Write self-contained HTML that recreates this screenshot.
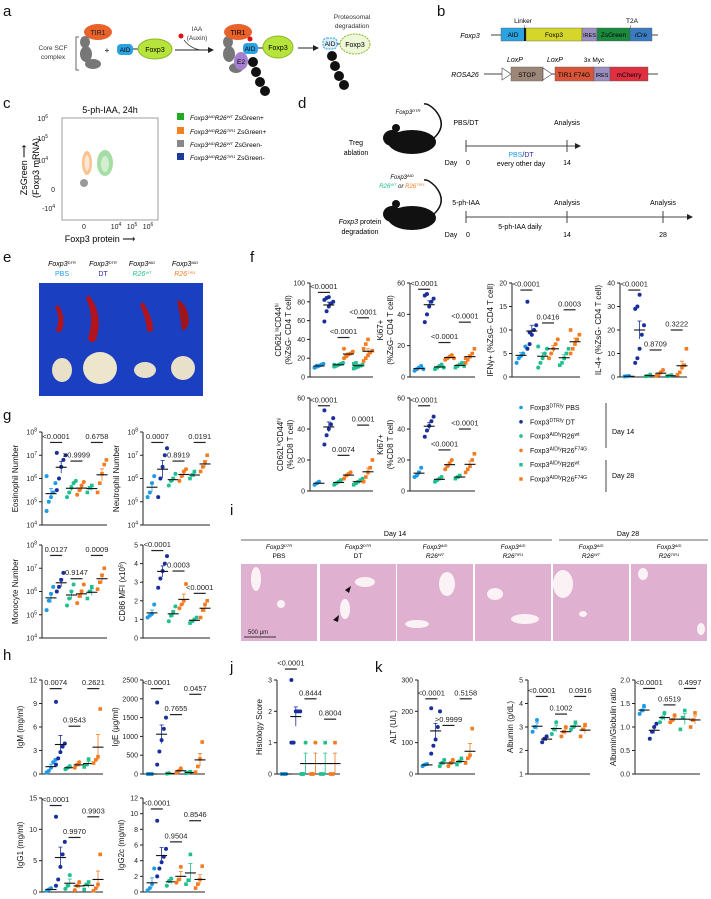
<!DOCTYPE html>
<html><head><meta charset="utf-8">
<style>
html,body{margin:0;padding:0;background:#fff;}
svg{display:block;font-family:"Liberation Sans",sans-serif;}
.t{font-size:7px;fill:#222}
.lab{font-size:15px;fill:#111}
</style></head>
<body>
<svg id="fig" width="711" height="899" viewBox="0 0 711 899" xmlns="http://www.w3.org/2000/svg">
<defs>
<marker id="ah" markerWidth="6" markerHeight="6" refX="5" refY="3" orient="auto"><path d="M0,0 L6,3 L0,6 z" fill="#222"/></marker>
</defs>
<!-- panel a -->
<g>
<text class="lab" x="3" y="16">a</text>
<text x="53" y="50" font-size="6.5" text-anchor="middle" fill="#333">Core SCF</text>
<text x="53" y="59" font-size="6.5" text-anchor="middle" fill="#333">complex</text>
<path d="M79,37 L76,37 L76,70 L79,70" fill="none" stroke="#666"/>
<ellipse cx="85" cy="42" rx="5" ry="6" fill="#777"/><ellipse cx="86" cy="54" rx="6" ry="8" fill="#777"/><ellipse cx="93" cy="64" rx="8" ry="5" fill="#777"/>
<ellipse cx="98" cy="32" rx="14" ry="8" fill="#e8622a"/><text x="98" y="35" font-size="7" text-anchor="middle" fill="#222">TIR1</text>
<text x="107" y="53" font-size="8" text-anchor="middle">+</text>
<rect x="117" y="44" width="16" height="11" rx="4" fill="#2ba3e0"/><text x="125" y="52" font-size="6.5" text-anchor="middle">AID</text>
<line x1="133" y1="49" x2="138" y2="49" stroke="#222"/>
<ellipse cx="155" cy="49" rx="17" ry="10" fill="#b7e43a" stroke="#8fb52a"/><text x="155" y="52" font-size="7" text-anchor="middle">Foxp3</text>
<text x="197" y="31" font-size="6.5" text-anchor="middle" fill="#333">IAA</text><text x="197" y="40" font-size="6.5" text-anchor="middle" fill="#333">(Auxin)</text>
<circle cx="181" cy="36" r="2.5" fill="#e01010"/>
<path d="M184,40 Q190,48 200,50" fill="none" stroke="#333" stroke-width="0.7"/>
<line x1="175" y1="50" x2="213" y2="50" stroke="#222" marker-end="url(#ah)"/>
<ellipse cx="228" cy="42" rx="5" ry="6" fill="#777"/><ellipse cx="229" cy="54" rx="6" ry="8" fill="#777"/><ellipse cx="236" cy="68" rx="7" ry="5" fill="#777"/>
<ellipse cx="238" cy="32" rx="14" ry="8" fill="#e8622a"/><text x="238" y="35" font-size="7" text-anchor="middle">TIR1</text>
<ellipse cx="241" cy="61" rx="7" ry="9" fill="#a77fd0"/><text x="241" y="64" font-size="6.5" text-anchor="middle">E2</text>
<rect x="243" y="43" width="15" height="11" rx="4" fill="#2ba3e0"/><text x="250" y="51" font-size="6.5" text-anchor="middle">AID</text>
<circle cx="250" cy="39" r="2.5" fill="#e01010"/>
<line x1="258" y1="48" x2="264" y2="48" stroke="#222"/>
<ellipse cx="278" cy="47" rx="15" ry="11" fill="#b7e43a" stroke="#8fb52a"/><text x="278" y="50" font-size="7" text-anchor="middle">Foxp3</text>
<circle cx="253" cy="62" r="5" fill="#111"/><circle cx="256" cy="72" r="5" fill="#111"/><circle cx="260" cy="82" r="5" fill="#111"/><circle cx="265" cy="91" r="5" fill="#111"/>
<line x1="298" y1="48" x2="318" y2="48" stroke="#222" marker-end="url(#ah)"/>
<text x="352" y="19" font-size="6.5" text-anchor="middle" fill="#333">Proteosomal</text><text x="352" y="28" font-size="6.5" text-anchor="middle" fill="#333">degradation</text>
<rect x="323" y="38" width="14" height="11" rx="4" fill="#d8eef8" stroke="#2ba3e0" stroke-dasharray="2,1"/><text x="330" y="46" font-size="6.5" text-anchor="middle">AID</text>
<line x1="337" y1="44" x2="340" y2="44" stroke="#222"/>
<ellipse cx="355" cy="44" rx="15" ry="10" fill="#eef7d8" stroke="#8fb52a" stroke-dasharray="2,1"/><text x="355" y="47" font-size="7" text-anchor="middle">Foxp3</text>
<circle cx="332" cy="56" r="5" fill="#111"/><circle cx="335" cy="66" r="5" fill="#111"/><circle cx="339" cy="76" r="5" fill="#111"/><circle cx="344" cy="85" r="5" fill="#111"/>
</g>
<!-- panel b -->
<g>
<text class="lab" x="437" y="16">b</text>
<text x="470" y="38" font-size="7" font-style="italic" text-anchor="middle">Foxp3</text>
<line x1="491" y1="35" x2="658" y2="35" stroke="#444"/>
<rect x="501" y="28" width="24" height="13" fill="#2ba3e0" stroke="#555" stroke-width=".4"/><text x="513" y="37" font-size="6.5" text-anchor="middle">AID</text>
<rect x="524" y="28" width="2" height="13" fill="#111"/>
<rect x="526" y="28" width="56" height="13" fill="#d4d62a" stroke="#555" stroke-width=".4"/><text x="554" y="37" font-size="6.5" text-anchor="middle">Foxp3</text>
<rect x="582" y="28" width="15" height="13" fill="#9b8fc0" stroke="#555" stroke-width=".4"/><text x="589.5" y="37" font-size="5.5" text-anchor="middle">IRES</text>
<rect x="597" y="28" width="33" height="13" fill="#1a8a3f" stroke="#555" stroke-width=".4"/><text x="613.5" y="37" font-size="6.5" text-anchor="middle">ZsGreen</text>
<rect x="630" y="28" width="22" height="13" fill="#3b7cc0" stroke="#555" stroke-width=".4"/><text x="641" y="37" font-size="6.5" text-anchor="middle" font-style="italic">iCre</text>
<text x="523" y="23" font-size="6.5" text-anchor="middle">Linker</text><line x1="524" y1="25" x2="525" y2="28" stroke="#444" stroke-width=".5"/>
<text x="632" y="23" font-size="6.5" text-anchor="middle">T2A</text><line x1="631" y1="25" x2="630" y2="28" stroke="#444" stroke-width=".5"/>
<text x="465" y="77" font-size="7" font-style="italic" text-anchor="middle">ROSA26</text>
<line x1="484" y1="74" x2="658" y2="74" stroke="#444"/>
<path d="M502,68 L511,74 L502,80 z" fill="#fff" stroke="#444" stroke-width=".6"/>
<rect x="511" y="67" width="32" height="14" fill="#9c8677" stroke="#555" stroke-width=".4"/><text x="527" y="77" font-size="6.5" text-anchor="middle">STOP</text>
<path d="M543,68 L552,74 L543,80 z" fill="#fff" stroke="#444" stroke-width=".6"/>
<rect x="555" y="67" width="39" height="14" fill="#d8553a" stroke="#555" stroke-width=".4"/><text x="574" y="77" font-size="6.5" text-anchor="middle">TIR1 F74G</text>
<rect x="594" y="67" width="16" height="14" fill="#9b8fc0" stroke="#555" stroke-width=".4"/><text x="602" y="77" font-size="5.5" text-anchor="middle">IRES</text>
<rect x="610" y="67" width="38" height="14" fill="#e03040" stroke="#555" stroke-width=".4"/><text x="629" y="77" font-size="6.5" text-anchor="middle">mCherry</text>
<text x="515" y="62" font-size="7" font-style="italic" text-anchor="middle">LoxP</text>
<text x="555" y="62" font-size="7" font-style="italic" text-anchor="middle">LoxP</text>
<text x="594" y="62" font-size="6.5" text-anchor="middle">3x Myc</text>
</g>
<!-- panel c -->
<g>
<text class="lab" x="3" y="108">c</text>
<text x="110" y="113" font-size="9" text-anchor="middle">5-ph-IAA, 24h</text>
<rect x="62" y="118" width="96" height="102" fill="none" stroke="#888" stroke-width=".8"/>
<text x="48" y="121" class="t" text-anchor="end">10<tspan dy="-3" font-size="5">6</tspan></text>
<text x="48" y="141" class="t" text-anchor="end">10<tspan dy="-3" font-size="5">5</tspan></text>
<text x="48" y="163" class="t" text-anchor="end">10<tspan dy="-3" font-size="5">4</tspan></text>
<text x="55" y="192" class="t" text-anchor="end">0</text>
<text x="55" y="211" class="t" text-anchor="end">-10<tspan dy="-3" font-size="5">4</tspan></text>
<text x="84" y="229" class="t" text-anchor="middle">0</text>
<text x="116" y="229" class="t" text-anchor="middle">10<tspan dy="-3" font-size="5">4</tspan></text>
<text x="132" y="229" class="t" text-anchor="middle">10<tspan dy="-3" font-size="5">5</tspan></text>
<text x="148" y="229" class="t" text-anchor="middle">10<tspan dy="-3" font-size="5">6</tspan></text>
<text x="100" y="242" font-size="9" text-anchor="middle">Foxp3 protein ⟶</text>
<text transform="translate(27,170) rotate(-90)" font-size="9" text-anchor="middle">ZsGreen ⟶</text>
<text transform="translate(39,168) rotate(-90)" font-size="9" text-anchor="middle">(Foxp3 mRNA)</text>
<ellipse cx="87" cy="163" rx="5" ry="12" fill="#f8a860" opacity=".7"/><ellipse cx="87" cy="163" rx="2.5" ry="8" fill="#fff" opacity=".6"/>
<ellipse cx="105" cy="163" rx="8" ry="13" fill="#7fd07f" opacity=".7"/><ellipse cx="105" cy="164" rx="4" ry="8" fill="#fff" opacity=".5"/>
<circle cx="84" cy="183" r="4" fill="#999"/>
<g font-size="6.5" font-style="italic">
<rect x="177" y="113" width="7" height="7" fill="#22aa22"/><text x="190" y="120">Foxp3<tspan dy="-2" font-size="4">AID</tspan><tspan dy="2">R26</tspan><tspan dy="-2" font-size="4">WT</tspan><tspan dy="2" font-style="normal"> ZsGreen+</tspan></text>
<rect x="177" y="127" width="7" height="7" fill="#f08020"/><text x="190" y="134">Foxp3<tspan dy="-2" font-size="4">AID</tspan><tspan dy="2">R26</tspan><tspan dy="-2" font-size="4">TIR1</tspan><tspan dy="2" font-style="normal"> ZsGreen+</tspan></text>
<rect x="177" y="140" width="7" height="7" fill="#888"/><text x="190" y="147">Foxp3<tspan dy="-2" font-size="4">AID</tspan><tspan dy="2">R26</tspan><tspan dy="-2" font-size="4">WT</tspan><tspan dy="2" font-style="normal"> ZsGreen-</tspan></text>
<rect x="177" y="153" width="7" height="7" fill="#1a3a9c"/><text x="190" y="160">Foxp3<tspan dy="-2" font-size="4">AID</tspan><tspan dy="2">R26</tspan><tspan dy="-2" font-size="4">TIR1</tspan><tspan dy="2" font-style="normal"> ZsGreen-</tspan></text>
</g>
</g>
<!-- panel d -->
<g font-size="7">
<text class="lab" x="298" y="108">d</text>
<g>
<ellipse cx="412" cy="142" rx="24" ry="12" fill="#111"/><ellipse cx="392" cy="138" rx="9" ry="8" fill="#111"/><circle cx="396" cy="128" r="4" fill="#111"/>
<path d="M434,138 Q448,125 435,110 Q428,103 424,104" fill="none" stroke="#111" stroke-width="1.5"/>
</g>
<text x="408" y="114" font-style="italic" text-anchor="middle" font-size="6">Foxp3<tspan dy="-2" font-size="4">DTR</tspan></text>
<text x="356" y="145" text-anchor="middle">Treg</text><text x="356" y="155" text-anchor="middle">ablation</text>
<line x1="466" y1="146" x2="580" y2="146" stroke="#444" marker-end="url(#ah)"/>
<line x1="466" y1="140" x2="466" y2="152" stroke="#444"/><line x1="567" y1="140" x2="567" y2="152" stroke="#444"/>
<text x="466" y="125" text-anchor="middle">PBS/DT</text><text x="567" y="125" text-anchor="middle">Analysis</text>
<text x="521" y="157" text-anchor="middle"><tspan fill="#1e9be8">PBS</tspan>/<tspan fill="#2a2aa8">DT</tspan></text>
<text x="521" y="166" text-anchor="middle">every other day</text>
<text x="451" y="165" text-anchor="middle">Day</text><text x="468" y="165" text-anchor="middle">0</text><text x="567" y="165" text-anchor="middle">14</text>
<g>
<ellipse cx="412" cy="218" rx="24" ry="12" fill="#111"/><ellipse cx="392" cy="214" rx="9" ry="8" fill="#111"/><circle cx="396" cy="204" r="4" fill="#111"/>
<path d="M434,214 Q448,201 435,186 Q428,179 424,180" fill="none" stroke="#111" stroke-width="1.5"/>
</g>
<text x="402" y="179" font-style="italic" text-anchor="middle" font-size="6">Foxp3<tspan dy="-2" font-size="4">AID</tspan></text>
<text x="402" y="188" font-style="italic" text-anchor="middle" font-size="6"><tspan fill="#1fbf8f">R26<tspan dy="-2" font-size="4">WT</tspan></tspan><tspan dy="2"> or </tspan><tspan fill="#f47b20">R26<tspan dy="-2" font-size="4">TIR1</tspan></tspan></text>
<text x="360" y="224" text-anchor="middle"><tspan font-style="italic">Foxp3</tspan> protein</text><text x="360" y="234" text-anchor="middle">degradation</text>
<line x1="466" y1="217" x2="692" y2="217" stroke="#444" marker-end="url(#ah)"/>
<line x1="466" y1="211" x2="466" y2="223" stroke="#444"/><line x1="567" y1="211" x2="567" y2="223" stroke="#444"/><line x1="663" y1="211" x2="663" y2="223" stroke="#444"/>
<text x="466" y="205" text-anchor="middle">5-ph-IAA</text><text x="567" y="205" text-anchor="middle">Analysis</text><text x="663" y="205" text-anchor="middle">Analysis</text>
<text x="520" y="229" text-anchor="middle">5-ph-IAA daily</text>
<text x="451" y="237" text-anchor="middle">Day</text><text x="468" y="237" text-anchor="middle">0</text><text x="567" y="237" text-anchor="middle">14</text><text x="663" y="237" text-anchor="middle">28</text>
</g>
<!-- panel e -->
<g font-size="7">
<text class="lab" x="3" y="262">e</text>
<text x="62" y="266" font-style="italic" text-anchor="middle">Foxp3<tspan dy="-2" font-size="4">DTR</tspan></text><text x="62" y="276" text-anchor="middle" fill="#1e9be8">PBS</text>
<text x="103" y="266" font-style="italic" text-anchor="middle">Foxp3<tspan dy="-2" font-size="4">DTR</tspan></text><text x="103" y="276" text-anchor="middle" fill="#2a2aa8">DT</text>
<text x="142" y="266" font-style="italic" text-anchor="middle">Foxp3<tspan dy="-2" font-size="4">AID</tspan></text><text x="142" y="276" text-anchor="middle" font-style="italic" fill="#1fbf8f">R26<tspan dy="-2" font-size="4">WT</tspan></text>
<text x="185" y="266" font-style="italic" text-anchor="middle">Foxp3<tspan dy="-2" font-size="4">AID</tspan></text><text x="185" y="276" text-anchor="middle" font-style="italic" fill="#f47b20">R26<tspan dy="-2" font-size="4">TIR1</tspan></text>
<rect x="39" y="283" width="164" height="113" fill="#1a3fc0"/>
<path d="M58,305 Q66,315 62,330 Q58,334 56,330 Q61,318 55,307 z" fill="#b3141c"/>
<path d="M89,295 Q104,315 96,340 Q90,345 88,338 Q95,318 86,298 z" fill="#b3141c"/>
<path d="M143,302 Q153,318 153,330 Q150,334 147,330 Q146,318 140,305 z" fill="#b3141c"/>
<path d="M177,300 Q188,303 189,322 Q186,332 182,330 Q180,315 177,300 z" fill="#a0141c"/>
<ellipse cx="62" cy="370" rx="10" ry="12" fill="#e8e0c8"/><ellipse cx="100" cy="368" rx="17" ry="16" fill="#eee6cc"/>
<ellipse cx="145" cy="370" rx="11" ry="8" fill="#e8e0c8"/><ellipse cx="183" cy="368" rx="12" ry="12" fill="#e8e0c8"/>
</g>
<!-- panel labels -->
<text class="lab" x="250" y="262">f</text>
<text class="lab" x="3" y="420">g</text>
<text class="lab" x="3" y="660">h</text>
<text class="lab" x="230" y="515">i</text>
<text class="lab" x="230" y="672">j</text>
<text class="lab" x="375" y="672">k</text>
<!-- panel i -->
<g id="histo" font-size="7">
<text x="395" y="536" text-anchor="middle">Day 14</text><line x1="241" y1="540" x2="552" y2="540" stroke="#666"/>
<text x="628" y="536" text-anchor="middle">Day 28</text><line x1="559" y1="540" x2="708" y2="540" stroke="#666"/>
</g>
<!-- f legend -->
<g font-size="7">
<g id="legend"></g>
<line x1="606" y1="403" x2="606" y2="448" stroke="#444"/><line x1="606" y1="460" x2="606" y2="492" stroke="#444"/>
<text x="612" y="434">Day 14</text><text x="612" y="478">Day 28</text>
</g>
<g id="plots"></g>
</svg>
<script>
const groupColors=["#1e9be8","#1a2f9c","#1fbf8f","#f47b20","#1fbf8f","#f47b20"];
// ---- data ----
const cd62lCd4Values=[[10,11,12,13,14,10,12],[59,70,75,78,80,82,84,85],[11,12,13,14,15,13],[20,22,24,25,27,30,23],[9,10,11,12,13,14,15,12],[17,20,23,26,28,30,35,40]];
const cd62lCd4P=["<0.0001","<0.0001","<0.0001"]; const cd62lCd4PY=[90,42,63];
const ki67Cd4Values=[[4,5,6,7,5],[35,40,45,48,50,52,53],[5,6,7,8,6],[11,12,13,14,12],[6,7,8,9,7],[9,11,13,15,18,12]];
const ki67Cd4P=["<0.0001","<0.0001","<0.0001"]; const ki67Cd4PY=[56,22,35];
const ifngValues=[[3,4,4.5,5,6.5],[6,7,9,10,11,16,9.5],[2,3,4,5,6,6.5],[4,5,6,7,8],[2.5,3,4,5,6],[5,6,7,8,9,10]];
const ifngP=["<0.0001","0.0416","0.0003"]; const ifngPY=[18.5,11.5,14.3];
const il4Values=[[0.2,0.3,0.4],[6,8,12,18,22,29,30,35],[0.3,0.5,1],[0.5,1,2,3],[0.3,0.5,0.8],[1,2,4,5,12]];
const il4P=["<0.0001","0.8709","0.3222"]; const il4PY=[37,11.5,20];
const cd62lCd8Values=[[4,5,6],[30,36,40,43,47,52],[4,5,6,7],[8,10,11,12],[4,5,6,7,8],[6,9,12,15,20]];
const cd62lCd8P=["<0.0001","0.0074","0.0001"]; const cd62lCd8PY=[55,23,42.5];
const ki67Cd8Values=[[9,10,12,15],[35,39,42,45,48],[6,7,8,9],[14,16,18,20],[8,9,10],[12,14,16,20,24]];
const ki67Cd8P=["<0.0001","<0.0001","<0.0001"]; const ki67Cd8PY=[55,26.5,40];
const eosValues=[[4.6,5,5.2,5.4,5.8,6.1],[5.5,6,6.5,6.8,7,7.1],[5.2,5.4,5.6,5.8,5.9],[5.3,5.5,5.7,5.85],[5.4,5.6,5.7],[5.4,5.8,6.2,6.6,6.8]];
const eosP=["<0.0001",">0.9999","0.6758"]; const eosPY=[7.55,6.75,7.55];
const neutValues=[[5.2,5.4,5.8,6.1],[5.2,6,6.5,7,7.3],[5.7,5.9,6,6.2],[5.9,6.1,6.3,6.4],[6,6.15,6.3],[6.3,6.5,6.7,7]];
const neutP=["0.0007","0.8919","0.0191"]; const neutPY=[7.55,6.75,7.55];
const monoValues=[[5.2,5.6,5.9,6.2],[6,6.2,6.5,6.8],[5.4,5.7,6,6.3],[5.5,5.8,6,6.3],[5.7,6,6.2],[6.1,6.4,6.7,7]];
const monoP=["0.0127","0.9147","0.0009"]; const monoPY=[7.55,6.55,7.55];
const cd86Values=[[1.1,1.2,1.3,1.8],[2.7,3.2,3.6,4,4.4],[0.9,1.2,1.4,1.7],[1.6,1.8,2,2.9],[0.8,0.9,1,1.1],[1.1,1.5,1.8,2]];
const cd86P=["<0.0001","0.0003","<0.0001"]; const cd86PY=[4.7,3.6,2.4];
const igmValues=[[0.2,0.4,0.8,1.5,1.8],[1.2,2,2.8,3.5,3.9,9.2],[0.6,0.8,1],[0.8,1.2,1.5],[0.9,1.2,1.9],[1.4,1.8,2.2,8.3]];
const igmP=["0.0074","0.9543","0.2621"]; const igmPY=[10.9,6.1,10.9];
const igeValues=[[0,0,0],[250,600,900,1200,1500,1900],[10,20],[30,80,150],[20,40,60],[50,200,400,850]];
const igeP=["<0.0001","0.7655","0.0457"]; const igePY=[2270,1580,2120];
const igg1Values=[[0.2,0.4,0.6],[1,2,4,6,8,12],[0.5,1,2.7],[0.3,1,1.6],[0.4,1.2,1.6],[0.2,0.6,1.2,6]];
const igg1P=["<0.0001","0.9970","0.9903"]; const igg1PY=[13.8,8.7,12];
const igg2cValues=[[0.2,0.5,1,3],[2,3,3.8,4.5,5.5,9.1],[0.8,1.4,1.7],[1.2,1.6,3.2],[1,1.5,4.8],[0.5,1,1.6,3.3]];
const igg2cP=["<0.0001","0.9504","0.8546"]; const igg2cPY=[10.6,6.4,9.1];
const histoValues=[[0,0,0],[1,1,2,2,2,3],[0,0,1],[0,0,1],[0,0,1],[0,0,1]];
const histoP=["<0.0001","0.8444","0.8004"]; const histoPY=[3.35,2.4,1.75];
const altValues=[[25,30,32],[65,90,110,150,200,210],[25,35,45],[25,35,45],[30,40,50],[35,50,60,145]];
const altP=["<0.0001",">0.9999","0.5158"]; const altPY=[240,155,240];
const albValues=[[2.8,3,3.3],[2.35,2.5,2.6],[2.7,2.9,3.2],[2.6,2.8,3],[2.9,3,3.2],[2.6,2.9,3.1]];
const albP=["<0.0001","0.1002","0.0916"]; const albPY=[4.3,3.55,4.3];
const agValues=[[1.28,1.35,1.45],[0.75,0.9,1,1.07],[1.1,1.2,1.3],[1.1,1.15,1.25],[0.95,1.2,1.35],[1.0,1.15,1.3]];
const agP=["<0.0001","0.6519","0.4997"]; const agPY=[1.82,1.47,1.82];
const ticks100=[0,20,40,60,80,100], ticks60=[0,20,40,60], ticks20=[0,5,10,15,20], ticks40=[0,10,20,30,40];
const ticksLog=[4,5,6,7,8], ticks5=[0,1,2,3,4,5], ticks12=[0,3,6,9,12], ticks2500=[0,500,1000,1500,2000,2500];
const ticks15=[0,5,10,15], ticks12b=[0,2,4,6,8,10,12], ticks3=[0,1,2,3], ticks300=[0,100,200,300], ticksAlb=[1,2,3,4,5], ticksAG=[0,0.5,1.0,1.5,2.0];
const legendLabels=[["DTR/y"," PBS"],["DTR/y"," DT"],["AID/y","R26","wt"],["AID/y","R26","F74G"],["AID/y","R26","wt"],["AID/y","R26","F74G"]];
const histoGroups=[["DTR","PBS",false],["DTR","DT",false],["AID","R26","WT"],["AID","R26","TIR1"],["AID","R26","WT"],["AID","R26","TIR1"]];

const NS="http://www.w3.org/2000/svg";
const root=document.getElementById('plots');
function mk(tag,attrs,parent){const e=document.createElementNS(NS,tag);for(const k in attrs)e.setAttribute(k,attrs[k]);(parent||root).appendChild(e);return e;}

function plot(name,values,pv,py,ticks,lay,labels,opt){
  opt=opt||{};
  const g=mk('g',{});
  
  
  const [x0,x1,yT,yB]=lay;
  const dMin=ticks[0], dMax=ticks[ticks.length-1];
  const ys=v=>yB-(v-dMin)/(dMax-dMin)*(yB-yT);
  const gx=i=>x0+9+i*(x1-x0-14)/5;
  const ax=mk('path',{d:`M${x0},${yT} L${x0},${yB} L${x1},${yB}`,fill:'none',stroke:'#222','stroke-width':1},g);
  
  
  ticks.forEach(t=>{
    const y=ys(t);
    mk('line',{x1:x0-3,x2:x0,y1:y,y2:y,stroke:'#222'},g);
    const tx=mk('text',{x:x0-5,y:y+2.5,'text-anchor':'end','font-size':7,fill:'#222'},g);
    
    
    if(opt.log){tx.textContent='10';const s=mk('tspan',{dy:-3,'font-size':5},tx);s.textContent=t;}
    else tx.textContent=(opt.dec?t.toFixed(1):t);
  });
  labels.forEach((l,k)=>{
    const lx=x0-(opt.lx||25)+k*10-(labels.length-1)*10;
    const t=mk('text',{transform:`translate(${lx},${(yT+yB)/2}) rotate(-90)`,'text-anchor':'middle','font-size':8,fill:'#111'},g);
    
    
    t.innerHTML=l;
  });
  values.forEach((arr,i)=>{
    const cx=gx(i), col=groupColors[i];
    const m=arr.reduce((a,b)=>a+b,0)/arr.length;
    let sd=Math.sqrt(arr.reduce((a,b)=>a+(b-m)*(b-m),0)/Math.max(1,arr.length-1));
    const sem=sd/Math.sqrt(arr.length);
    mk('line',{x1:cx,x2:cx,y1:ys(m-sem),y2:ys(m+sem),stroke:col,'stroke-width':0.8},g);
    mk('line',{x1:cx-2,x2:cx+2,y1:ys(m+sem),y2:ys(m+sem),stroke:col,'stroke-width':0.8},g);
    arr.forEach((v,j)=>{
      const px=cx+((j%5)-2)*2.2, pyy=ys(v);
      let d;
      if(i<4) d=mk('circle',{cx:px,cy:pyy,r:2,fill:col},g);
      else d=mk('rect',{x:px-1.8,y:pyy-1.8,width:3.6,height:3.6,fill:col},g);
      
      
    });
    const ml=mk('line',{x1:cx-5.5,x2:cx+5.5,y1:ys(m),y2:ys(m),stroke:'#111','stroke-width':1.1},g);
    
    
  });
  pv.forEach((p,k)=>{
    const c=(gx(2*k)+gx(2*k+1))/2, y=ys(py[k]);
    const b=mk('line',{x1:c-6,x2:c+6,y1:y,y2:y,stroke:'#222','stroke-width':1.2},g);
    
    
    const t=mk('text',{x:c,y:y-3.5,'text-anchor':'middle','font-size':7.5,fill:'#222'},g);
    
    
    t.textContent=p;
  });
}
plot('cd62l-cd4-plot',cd62lCd4Values,cd62lCd4P,cd62lCd4PY,ticks100,[310,373,283,377],['CD62L<tspan dy="-2.5" font-size="5">lo</tspan><tspan dy="2.5">CD44</tspan><tspan dy="-2.5" font-size="5">hi</tspan>','(%ZsG- CD4 T cell)'],{lx:19});
plot('ki67-cd4-plot',ki67Cd4Values,ki67Cd4P,ki67Cd4PY,ticks60,[410,475,283,377],['Ki67+','(%ZsG- CD4 T cell)'],{lx:17});
plot('ifng-plot',ifngValues,ifngP,ifngPY,ticks20,[512,580,283,377],['IFNγ+ (%ZsG- CD4 T cell)'],{lx:19});
plot('il4-plot',il4Values,il4P,il4PY,ticks40,[620,687,283,377],['IL-4+ (%ZsG- CD4 T cell)'],{lx:19});
plot('cd62l-cd8-plot',cd62lCd8Values,cd62lCd8P,cd62lCd8PY,ticks60,[310,373,398,491],['CD62L<tspan dy="-2.5" font-size="5">lo</tspan><tspan dy="2.5">CD44</tspan><tspan dy="-2.5" font-size="5">hi</tspan>','(%CD8 T cell)'],{lx:17});
plot('ki67-cd8-plot',ki67Cd8Values,ki67Cd8P,ki67Cd8PY,ticks60,[410,475,398,491],['Ki67+','(%CD8 T cell)'],{lx:17});
plot('eosinophil-plot',eosValues,eosP,eosPY,ticksLog,[42,107,432,525],['Eosinophil Number'],{log:1,lx:24});
plot('neutrophil-plot',neutValues,neutP,neutPY,ticksLog,[143,210,432,525],['Neutrophil Number'],{log:1,lx:24});
plot('monocyte-plot',monoValues,monoP,monoPY,ticksLog,[42,107,545,638],['Monocyte Number'],{log:1,lx:24});
plot('cd86-plot',cd86Values,cd86P,cd86PY,ticks5,[143,210,545,638],['CD86 MFI (x10<tspan dy="-2.5" font-size="5">5</tspan><tspan dy="2.5">)</tspan>'],{lx:18});
plot('igm-plot',igmValues,igmP,igmPY,ticks12,[42,103,680,774],['IgM (mg/ml)'],{lx:19});
plot('ige-plot',igeValues,igeP,igePY,ticks2500,[143,205,680,774],['IgE (μg/ml)'],{lx:25});
plot('igg1-plot',igg1Values,igg1P,igg1PY,ticks15,[42,103,798,892],['IgG1 (mg/ml)'],{lx:19});
plot('igg2c-plot',igg2cValues,igg2cP,igg2cPY,ticks12b,[143,205,798,892],['IgG2c (mg/ml)'],{lx:19});
plot('histology-score-plot',histoValues,histoP,histoPY,ticks3,[277,340,680,774],['Histology Score'],{lx:15});
plot('alt-plot',altValues,altP,altPY,ticks300,[418,475,680,774],['ALT (U/L)'],{lx:22});
plot('albumin-plot',albValues,albP,albPY,ticksAlb,[528,590,680,774],['Albumin (g/dL)'],{lx:15});
plot('ag-ratio-plot',agValues,agP,agPY,ticksAG,[635,700,680,774],['Albumin/Globulin ratio'],{dec:1,lx:19});

// legend
const lg=document.getElementById('legend');
legendLabels.forEach((l,i)=>{
  const y=410+i*14.3;
  let m;
  if(i<4) m=mk('circle',{cx:521,cy:y-2.5,r:1.8,fill:groupColors[i]},lg);
  else m=mk('rect',{x:519.3,y:y-4.2,width:3.4,height:3.4,fill:groupColors[i]},lg);
  
  
  const t=mk('text',{x:530,y:y,'font-size':7,fill:'#111'},lg);
  
  
  t.innerHTML='Foxp3<tspan dy="-2.5" font-size="5">'+l[0]+'</tspan><tspan dy="2.5">'+l[1]+'</tspan>'+(l[2]?'<tspan dy="-2.5" font-size="5">'+l[2]+'</tspan>':'');
});
// histology images
const hi=document.getElementById('histo');
const hx=[241,320,397,475,553,631];
const holes=[[[15,15,5,12],[40,40,4,4]],[[25,45,5,10],[45,18,10,5]],[[50,20,8,12],[20,60,12,4]],[[20,30,8,6],[50,55,14,5]],[[10,20,10,14],[30,50,4,3]],[[12,10,5,6],[70,65,4,6]]];
hx.forEach((x,i)=>{
  const r=mk('rect',{x:x,y:564,width:76,height:77,fill:'#dfb0cf'},hi);
  
  
  holes[i].forEach(h=>mk('ellipse',{cx:x+h[0],cy:564+h[1],rx:h[2],ry:h[3],fill:'#fbf2f6'},hi));
  const gr=histoGroups[i];
  const t1=mk('text',{x:x+38,y:549,'text-anchor':'middle','font-size':6.5,'font-style':'italic'},hi);
  t1.innerHTML='Foxp3<tspan dy="-2" font-size="4">'+gr[0]+'</tspan>';
  const t2=mk('text',{x:x+38,y:558,'text-anchor':'middle','font-size':6.5,'font-style':gr[2]?'italic':'normal'},hi);
  t2.innerHTML=gr[2]?gr[1]+'<tspan dy="-2" font-size="4">'+gr[2]+'</tspan>':gr[1];
});
mk('polygon',{points:'345,590 351,586 349,593',fill:'#111'},hi);
mk('polygon',{points:'333,620 339,615 338,622',fill:'#111'},hi);
mk('line',{x1:244,y1:637,x2:276,y2:637,stroke:'#333','stroke-width':1},hi);
const sb=mk('text',{x:248,y:634,'font-size':6,fill:'#222'},hi); sb.textContent='500 μm';
</script>
</body></html>
